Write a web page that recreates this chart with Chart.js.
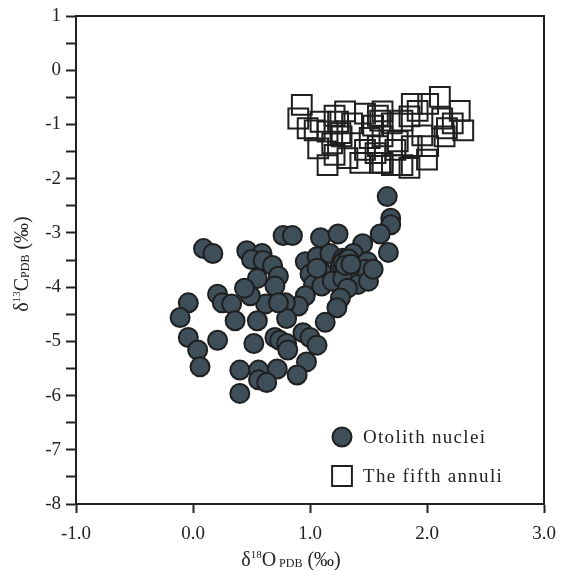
<!DOCTYPE html>
<html>
<head>
<meta charset="utf-8">
<script src="https://cdn.jsdelivr.net/npm/chart.js@4/dist/chart.umd.min.js"></script>
<style>
html,body{margin:0;padding:0;background:#fff;}
#wrap{position:relative;width:561px;height:571px;}
</style>
</head>
<body>
<div id="wrap"><canvas id="c" width="561" height="571"></canvas></div>
<script>
// ---- data ----
const nucleiX = [1.66,1.69,1.69,1.60,1.67,0.09,0.17,0.77,0.85,1.09,1.24,1.45,0.46,0.59,0.50,0.60,0.68,0.73,0.55,0.96,1.06,1.17,1.28,1.37,1.49,1.47,1.34,1.26,1.00,1.10,1.03,1.10,1.19,1.28,1.41,1.32,1.26,1.23,1.13,0.96,0.90,0.79,0.70,0.62,0.49,0.44,0.21,0.25,0.33,0.36,0.55,0.80,-0.04,-0.11,-0.04,0.04,0.06,0.21,0.52,0.70,0.74,0.80,0.81,0.94,1.00,1.06,0.97,0.89,0.72,0.56,0.56,0.63,0.40,0.40,1.30,1.32,1.28,1.33,1.30,1.35,1.06,1.50,1.54,0.73];
const nucleiY = [-2.33,-2.73,-2.85,-3.02,-3.36,-3.29,-3.38,-3.05,-3.05,-3.09,-3.02,-3.20,-3.33,-3.38,-3.49,-3.51,-3.60,-3.80,-3.84,-3.53,-3.44,-3.38,-3.47,-3.38,-3.53,-3.67,-3.65,-3.58,-3.76,-3.71,-3.95,-3.98,-3.89,-3.84,-3.95,-4.02,-4.20,-4.38,-4.65,-4.16,-4.35,-4.29,-3.98,-4.31,-4.16,-4.02,-4.13,-4.29,-4.31,-4.62,-4.62,-4.58,-4.29,-4.56,-4.93,-5.16,-5.47,-4.98,-5.04,-4.93,-4.98,-5.04,-5.16,-4.84,-4.93,-5.07,-5.38,-5.62,-5.51,-5.53,-5.71,-5.76,-5.53,-5.96,-3.50,-3.55,-3.55,-3.48,-3.60,-3.58,-3.65,-3.89,-3.67,-4.29];
const annuliX = [0.93,0.90,0.98,1.04,1.15,1.21,1.30,1.24,1.36,1.26,1.19,1.27,1.21,1.15,1.32,1.43,1.47,1.51,1.54,1.58,1.56,1.62,2.11,2.28,1.87,1.92,2.01,1.62,1.60,1.70,1.79,1.85,2.13,2.17,2.31,1.96,2.15,1.75,1.62,1.58,1.73,1.87,2.01,2.00,1.79,1.85,1.70,1.60,1.09,1.07,2.22,1.47];
const annuliY = [-0.64,-0.89,-1.07,-1.11,-1.13,-0.84,-0.76,-0.95,-0.98,-1.16,-1.35,-1.22,-1.56,-1.75,-1.62,-1.71,-1.47,-1.25,-1.02,-0.84,-1.53,-1.71,-0.49,-0.75,-0.62,-0.75,-0.62,-0.76,-0.93,-0.98,-0.93,-0.85,-0.89,-1.07,-1.11,-1.20,-1.22,-1.31,-1.22,-1.40,-1.47,-1.40,-1.40,-1.65,-1.75,-1.80,-1.75,-1.71,-0.95,-1.44,-0.98,-0.80];
const seriesNames = ["Otolith nuclei", "The fifth annuli"];
const xTickValues = [-1, 0, 1, 2, 3];
const yTickValues = [1, 0, -1, -2, -3, -4, -5, -6, -7, -8];

const toPts = (xs, ys) => xs.map((x, i) => ({x: x, y: ys[i]}));
const SERIF = "'Liberation Serif', 'Times New Roman', serif";

const frame = {
  id: 'frame',
  afterDraw(chart) {
    const {ctx, chartArea: a} = chart;
    ctx.save();
    ctx.strokeStyle = '#222';
    ctx.lineWidth = 2;
    ctx.strokeRect(a.left, a.top, a.right - a.left, a.bottom - a.top);

    function rich(parts, cx, cy, rot) {
      ctx.save();
      ctx.translate(cx, cy);
      if (rot) ctx.rotate(rot);
      let total = 0;
      parts.forEach(p => { ctx.font = p.s + 'px ' + SERIF; total += ctx.measureText(p.t).width; });
      let x = -total / 2;
      ctx.fillStyle = '#222';
      ctx.textBaseline = 'alphabetic';
      parts.forEach(p => {
        ctx.font = p.s + 'px ' + SERIF;
        ctx.fillText(p.t, x, 6 + (p.dy || 0));
        x += ctx.measureText(p.t).width;
      });
      ctx.restore();
    }
    rich([{t:'δ',s:20},{t:'18',s:11,dy:-8},{t:'O',s:20},{t:' PDB',s:12,dy:1},{t:' (‰)',s:20}], 291, 560, 0);
    rich([{t:'δ',s:20},{t:'13',s:11,dy:-8},{t:'C',s:20},{t:'PDB',s:12,dy:1},{t:' (‰)',s:20}], 22, 264, -Math.PI/2);

    // legend
    const ds = chart.data.datasets;
    const items = [{y: 437, d: ds[0], style: 'circle', r: 9.5}, {y: 476, d: ds[1], style: 'rect', r: 14}];
    items.forEach((it, i) => {
      ctx.save();
      ctx.lineWidth = 2;
      ctx.strokeStyle = it.d.borderColor;
      ctx.fillStyle = it.style === 'circle' ? it.d.backgroundColor : '#fff';
      Chart.helpers.drawPoint(ctx, {pointStyle: it.style, radius: it.r, borderWidth: 2}, 342, it.y);
      ctx.restore();
      ctx.fillStyle = '#222';
      ctx.font = '19px ' + SERIF;
      if ('letterSpacing' in ctx) ctx.letterSpacing = '1.3px';
      ctx.textBaseline = 'middle';
      ctx.fillText(seriesNames[i], 363, it.y + 1);
      if ('letterSpacing' in ctx) ctx.letterSpacing = '0px';
    });
    ctx.restore();
  }
};

new Chart(document.getElementById('c'), {
  type: 'scatter',
  data: {
    datasets: [
      {
        label: seriesNames[0],
        data: toPts(nucleiX, nucleiY),
        pointStyle: 'circle',
        pointRadius: 9.5,
        pointHoverRadius: 9.5,
        backgroundColor: '#3e4f5a',
        borderColor: '#1f1f1f',
        borderWidth: 2
      },
      {
        label: seriesNames[1],
        data: toPts(annuliX, annuliY),
        pointStyle: 'rect',
        pointRadius: 14,
        pointHoverRadius: 14,
        backgroundColor: 'rgba(0,0,0,0)',
        borderColor: '#1f1f1f',
        borderWidth: 2
      }
    ]
  },
  options: {
    responsive: false,
    animation: false,
    events: [],
    layout: {padding: {top: 11, right: 17, left: 0, bottom: 0}},
    plugins: {legend: {display: false}, tooltip: {enabled: false}},
    scales: {
      x: {
        type: 'linear',
        min: -1, max: 3,
        afterFit(s) { s.height = 67; s.paddingLeft = 0; s.paddingRight = 0; },
        afterBuildTicks(s) { s.ticks = xTickValues.map(v => ({value: v})); },
        ticks: {
          color: '#222',
          font: {family: SERIF, size: 19},
          padding: 10,
          maxRotation: 0,
          callback: v => v.toFixed(1)
        },
        grid: {drawOnChartArea: false, tickLength: 9, tickColor: '#222', tickWidth: 2},
        border: {color: '#222', width: 2}
      },
      y: {
        type: 'linear',
        min: -8, max: 1,
        afterFit(s) { s.width = 76; s.paddingTop = 0; s.paddingBottom = 0; },
        afterBuildTicks(s) {
          const t = [];
          for (let v = -8; v <= 1.001; v += 0.5) t.push({value: Math.round(v * 2) / 2});
          s.ticks = t;
        },
        ticks: {
          color: '#222',
          font: {family: SERIF, size: 19},
          padding: 5,
          callback: v => (yTickValues.includes(v) ? String(v) : '')
        },
        grid: {drawOnChartArea: false, tickLength: 10, tickColor: '#222', tickWidth: 2},
        border: {color: '#222', width: 2}
      }
    }
  },
  plugins: [frame]
});
</script>
</body>
</html>
